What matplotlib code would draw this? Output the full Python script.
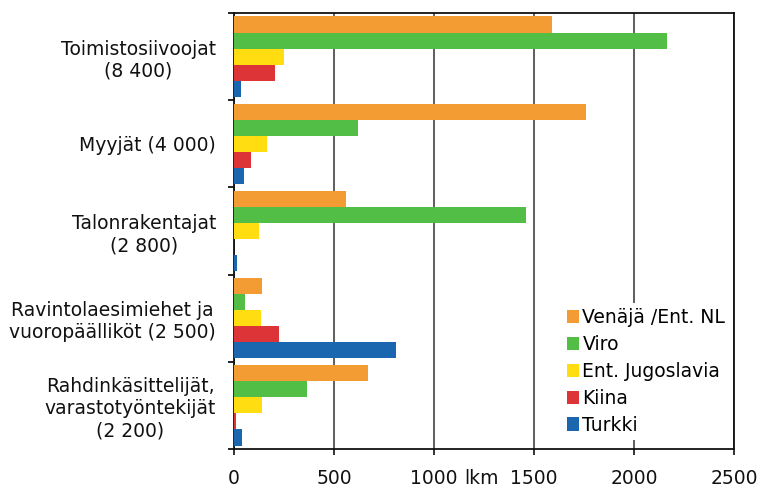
import matplotlib
matplotlib.use("Agg")
import matplotlib.pyplot as plt
import numpy as np

categories = [
    "Toimistosiivoojat\n(8 400)",
    "Myyjät (4 000)",
    "Talonrakentajat\n(2 800)",
    "Ravintolaesimiehet ja\nvuoropäälliköt (2 500)",
    "Rahdinkäsittelijät,\nvarastotyöntekijät\n(2 200)",
]
series_names = ["Venäjä /Ent. NL", "Viro", "Ent. Jugoslavia", "Kiina", "Turkki"]
venaja = [1590, 1762, 558, 142, 668]
viro = [2165, 620, 1460, 55, 365]
jugoslavia = [250, 163, 125, 135, 142]
kiina = [203, 87, 0, 227, 8]
turkki = [33, 48, 17, 808, 42]
series_values = [venaja, viro, jugoslavia, kiina, turkki]
colors = ["#F39C34", "#52BE46", "#FFDD10", "#DD3537", "#1A67B0"]
xticks = [0, 500, 1000, 1500, 2000, 2500]

plt.rcParams["font.family"] = ["DejaVu Sans"]
fs = 13.5

fig = plt.figure(figsize=(7.74, 4.90), dpi=100)
ax = fig.add_axes([234 / 774, (490 - 449) / 490, 500 / 774, 436 / 490])

n = len(categories)
bh = 0.184
ypos = np.arange(n)
for k, (name, vals, c) in enumerate(zip(series_names, series_values, colors)):
    ax.barh(ypos + (k - 2) * bh, vals, height=bh, color=c, label=name,
            linewidth=0, zorder=3)

ax.set_xlim(0, 2500)
ax.set_ylim(n - 0.5, -0.5)
ax.set_xticks(xticks)
ax.set_xticklabels([str(v) for v in xticks], fontsize=fs)
ax.tick_params(axis="x", direction="out", length=4.5, width=1.2, pad=10, colors="#111111")

ax.set_yticks(np.arange(-0.5, n, 1.0))
ax.set_yticklabels([])
ax.set_yticks(ypos, minor=True)
ax.set_yticklabels(categories, minor=True, fontsize=fs)
ax.tick_params(axis="y", which="major", direction="out", length=4.5, width=1.2)
ax.tick_params(axis="y", which="minor", length=0, pad=13)
for t in ax.get_yticklabels(minor=True):
    t.set_multialignment("center")
    t.set_color("#111111")

ax.grid(axis="x", color="#333333", linewidth=1.1, zorder=0)
ax.set_axisbelow(True)
for s in ax.spines.values():
    s.set_linewidth(1.3)
    s.set_color("#111111")

leg = ax.legend(loc="lower left", bbox_to_anchor=(0.655, 0.02), frameon=True,
                fontsize=fs, handlelength=0.62, handleheight=0.72,
                handletextpad=0.2, labelspacing=0.42, borderpad=0.3,
                borderaxespad=0, fancybox=False)
leg.get_frame().set_facecolor("white")
leg.get_frame().set_edgecolor("none")
leg.get_frame().set_alpha(1)
leg.set_zorder(5)

fig.text(482 / 774, 2 / 490, "lkm", ha="center", va="bottom", fontsize=fs, color="#111111")

fig.savefig("out.png", dpi=100)
